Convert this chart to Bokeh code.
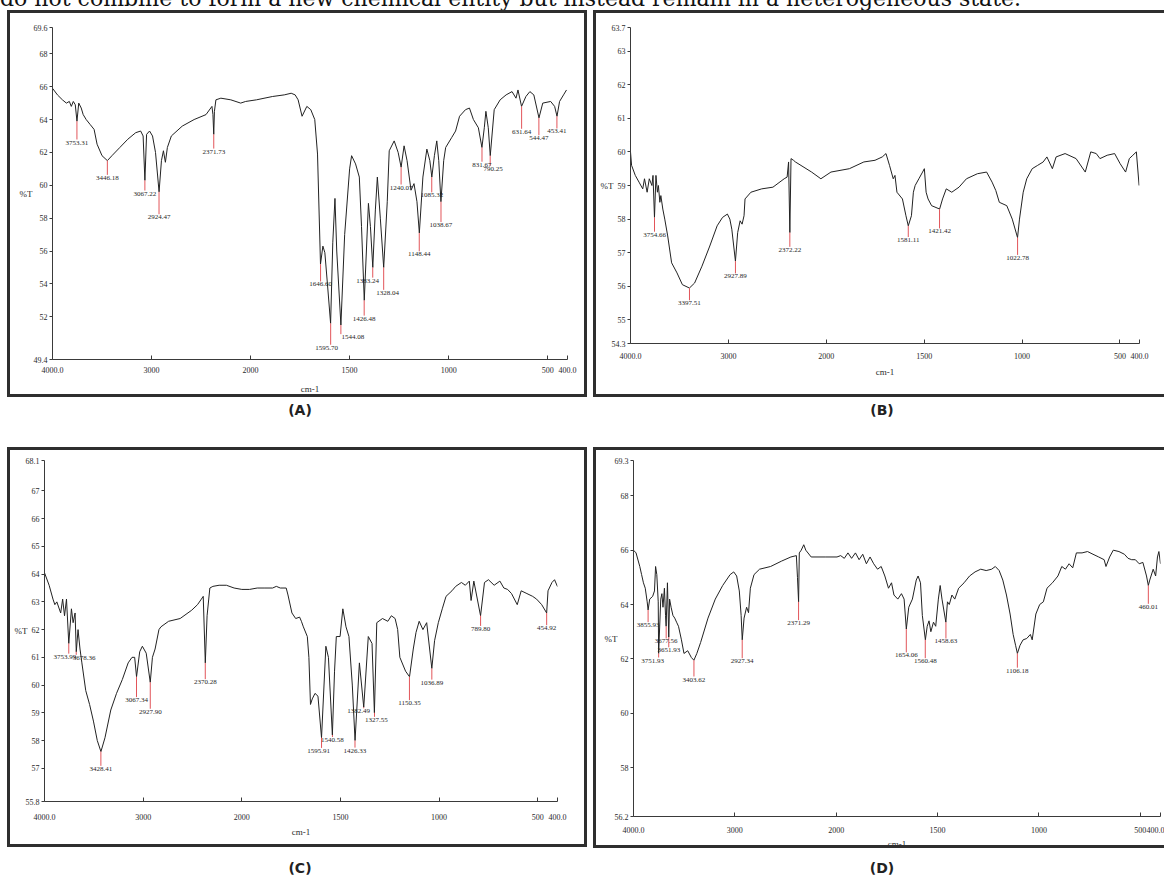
from bokeh.plotting import figure
from bokeh.models import ColumnDataSource, CustomJSTransform, FixedTicker, Range1d, Div, Spacer
from bokeh.layouts import row, column
from bokeh.transform import transform
from bokeh.embed import file_html
from bokeh.resources import INLINE
from bokeh.core.properties import value

# ---------------- data ----------------
X_TICKS = [4000, 3000, 2000, 1500, 1000, 500, 400]
X_TICK_LABELS = ["4000.0", "3000", "2000", "1500", "1000", "500", "400.0"]

# (A)
A_WN = [4000, 3950, 3900, 3860, 3830, 3810, 3790, 3770, 3753, 3735, 3710, 3690, 3660, 3620, 3580, 3550, 3500, 3446, 3400, 3320,
        3240, 3160, 3110, 3085, 3067, 3050, 3020, 2990, 2960, 2924, 2900, 2880, 2860, 2840, 2800, 2690, 2570, 2450, 2390, 2380,
        2372, 2365, 2350, 2300, 2200, 2100, 2050, 1970, 1890, 1830, 1795, 1775, 1760, 1740, 1716, 1696, 1676, 1662, 1647, 1635,
        1625, 1612, 1596, 1585, 1574, 1565, 1544, 1525, 1500, 1490, 1470, 1451, 1440, 1426, 1405, 1395, 1383, 1370, 1360, 1345,
        1328, 1310, 1300, 1275, 1255, 1240, 1225, 1210, 1190, 1175, 1160, 1148, 1130, 1110, 1095, 1085, 1072, 1060, 1050, 1039,
        1025, 1015, 985, 965, 945, 915, 895, 875, 850, 832, 820, 812, 800, 790, 770, 740, 710, 680, 660, 650,
        632, 610, 590, 570, 544, 525, 485, 465, 453, 440, 420, 405]
A_T = [65.9, 65.5, 65.2, 65.0, 65.1, 64.8, 65.1, 64.9, 63.9, 65.0, 64.7, 64.3, 64.0, 63.7, 63.4, 62.5, 61.8, 61.5, 61.8, 62.3,
       62.8, 63.2, 63.3, 63.0, 60.3, 63.1, 63.3, 63.0, 62.0, 59.6, 61.5, 62.1, 61.4, 62.3, 63.0, 63.6, 64.0, 64.3, 64.8, 64.3,
       63.1, 64.5, 65.2, 65.3, 65.2, 65.0, 65.1, 65.2, 65.4, 65.5, 65.6, 65.5, 65.2, 64.2, 64.8, 64.6, 64.0, 61.9, 55.2, 56.3,
       55.9, 54.0, 51.6, 56.5, 59.2, 56.0, 51.5, 57.0, 61.0, 61.8, 61.3, 60.5, 57.5, 53.0, 58.9, 57.5, 55.0, 58.5, 60.5, 58.0,
       55.0, 59.0, 62.1, 62.7, 62.0, 61.1, 62.4, 61.5, 59.7, 60.1, 59.0, 57.1, 60.5, 62.2, 61.5, 60.5, 61.8, 62.7, 61.5, 59.0,
       61.5, 62.3, 62.9, 63.3, 64.2, 64.6, 64.7, 64.0, 63.5, 62.3, 63.5, 64.5, 63.5, 61.8, 64.6, 65.2, 65.5, 65.7, 65.3, 65.8,
       64.8, 65.4, 65.7, 65.5, 64.1, 65.0, 65.1, 64.8, 64.2, 65.1, 65.5, 65.8]
A_PEAK_WN = [3753.31, 3446.18, 3067.22, 2924.47, 2371.73, 1646.60, 1595.70, 1544.08, 1426.48, 1383.24,
             1328.04, 1240.07, 1148.44, 1085.32, 1038.67, 831.67, 790.25, 631.64, 544.47, 453.41]
A_PEAK_T = [63.9, 61.5, 60.3, 59.6, 63.1, 55.2, 51.6, 51.5, 53.0, 55.0,
            55.0, 61.1, 57.1, 60.5, 59.0, 62.3, 61.8, 64.8, 64.1, 64.2]
A_YTICKS = [49.4, 52, 54, 56, 58, 60, 62, 64, 66, 68, 69.6]

# (B)
B_WN = [4000, 3989, 3951, 3913, 3875, 3857, 3830, 3808, 3781, 3770, 3755, 3740, 3725, 3715, 3700, 3690, 3670, 3650, 3620, 3580,
        3525, 3470, 3398, 3345, 3270, 3190, 3115, 3060, 3010, 2985, 2965, 2928, 2905, 2880, 2860, 2840, 2830, 2770, 2660, 2545,
        2430, 2400, 2385, 2372, 2360, 2335, 2315, 2150, 2055, 1976, 1882, 1808, 1751, 1714, 1695, 1677, 1658, 1649, 1639, 1611,
        1593, 1581, 1565, 1555, 1546, 1527, 1508, 1499, 1490, 1480, 1462, 1421, 1406, 1387, 1359, 1322, 1284, 1228, 1181, 1153,
        1134, 1116, 1078, 1050, 1023, 1013, 994, 976, 948, 920, 892, 873, 845, 826, 780, 724, 677, 649, 621, 602,
        565, 527, 499, 471, 452, 434, 416, 402]
B_T = [60.0, 59.6, 59.3, 59.1, 58.9, 59.2, 58.8, 59.2, 59.0, 59.3, 58.05, 59.3, 58.8, 59.0, 58.5, 58.7, 58.3, 58.0, 57.5, 56.7,
       56.4, 56.05, 55.95, 56.1, 56.6, 57.2, 57.8, 58.05, 58.15, 58.0, 57.7, 56.75, 57.6, 57.95, 57.85, 58.1, 58.6, 58.8, 58.9, 58.95,
       59.2, 59.25, 59.7, 57.6, 59.8, 59.75, 59.7, 59.4, 59.2, 59.4, 59.5, 59.7, 59.75, 59.85, 59.95, 59.6, 59.2, 59.3, 58.8, 58.6,
       58.1, 57.8, 58.1, 58.8, 59.0, 59.2, 59.4, 59.5, 58.8, 58.6, 58.4, 58.3, 58.6, 58.9, 58.8, 58.95, 59.2, 59.35, 59.4, 59.1,
       58.85, 58.5, 58.4, 58.0, 57.45, 58.0, 58.8, 59.2, 59.5, 59.6, 59.7, 59.85, 59.5, 59.85, 59.95, 59.8, 59.4, 60.0, 59.95, 59.8,
       59.9, 59.95, 59.65, 59.4, 59.8, 59.9, 60.0, 59.0]
B_PEAK_WN = [3754.66, 3397.51, 2927.89, 2372.22, 1581.11, 1421.42, 1022.78]
B_PEAK_T = [58.05, 55.95, 56.75, 57.6, 57.8, 58.3, 57.45]
B_YTICKS = [54.3, 55, 56, 57, 58, 59, 60, 61, 62, 63, 63.7]

# (C)
C_WN = [4000, 3953, 3914, 3895, 3875, 3836, 3816, 3797, 3777, 3754, 3727, 3710, 3690, 3678, 3660, 3640, 3621, 3582, 3543, 3504,
        3465, 3428, 3387, 3328, 3270, 3211, 3152, 3113, 3086, 3067, 3035, 3008, 2969, 2928, 2906, 2879, 2840, 2820, 2742, 2625,
        2508, 2449, 2410, 2391, 2370, 2352, 2324, 2293, 2230, 2156, 2078, 2000, 1961, 1922, 1883, 1844, 1825, 1805, 1775, 1766,
        1746, 1727, 1707, 1698, 1688, 1668, 1660, 1652, 1643, 1629, 1614, 1596, 1574, 1561, 1541, 1530, 1521, 1502, 1488, 1472,
        1457, 1440, 1426, 1404, 1382, 1359, 1340, 1328, 1316, 1287, 1260, 1242, 1223, 1210, 1199, 1170, 1150, 1131, 1117, 1101,
        1082, 1063, 1037, 1023, 1004, 984, 965, 935, 916, 887, 867, 847, 838, 824, 790, 770, 750, 721, 692, 672,
        653, 633, 604, 584, 555, 526, 506, 480, 455, 448, 428, 415, 400]
C_T = [64.05, 63.6, 63.1, 62.9, 63.0, 62.6, 63.1, 62.5, 63.1, 61.5, 62.75, 62.25, 62.6, 61.2, 62.0, 61.3, 60.8, 59.8, 59.3, 58.7,
       58.0, 57.6, 58.1, 59.1, 59.7, 60.2, 60.8, 61.0, 61.0, 60.3, 61.2, 61.4, 61.15, 60.1, 61.0, 61.3, 62.0, 62.1, 62.3, 62.4,
       62.7, 62.9, 63.1, 63.2, 60.8, 62.5, 63.5, 63.56, 63.6, 63.6, 63.5, 63.45, 63.45, 63.5, 63.5, 63.5, 63.56, 63.5, 63.5, 63.25,
       62.6, 62.4, 62.45, 62.3, 62.1, 61.75, 61.0, 59.3, 59.5, 59.7, 59.6, 58.1, 61.4, 61.0, 58.2, 60.5, 61.75, 61.75, 62.75, 62.1,
       61.75, 60.0, 58.0, 60.8, 59.2, 61.75, 61.5, 59.0, 62.25, 62.4, 62.3, 62.5, 62.4, 62.0, 61.0, 60.5, 60.3, 61.3, 61.9, 62.3,
       62.0, 62.25, 60.6, 61.6, 62.25, 62.75, 63.2, 63.4, 63.56, 63.7, 63.6, 63.75, 63.05, 63.75, 62.5, 63.7, 63.8, 63.6, 63.75, 63.5,
       63.45, 63.3, 62.9, 63.4, 63.3, 63.2, 63.1, 62.9, 62.6, 63.4, 63.7, 63.8, 63.55]
C_PEAK_WN = [3753.99, 3678.36, 3428.41, 3067.34, 2927.90, 2370.28, 1595.91, 1540.58, 1426.33, 1382.49,
             1327.55, 1150.35, 1036.89, 789.80, 454.92]
C_PEAK_T = [61.5, 61.2, 57.6, 60.3, 60.1, 60.8, 58.1, 58.2, 58.0, 59.2,
            59.0, 60.3, 60.6, 62.5, 62.6]
C_YTICKS = [55.8, 57, 58, 59, 60, 61, 62, 63, 64, 65, 66, 67, 68.1]

# (D)
D_WN = [4000, 3975, 3938, 3920, 3902, 3884, 3865, 3856, 3840, 3811, 3793, 3782, 3770, 3756, 3752, 3731, 3720, 3709, 3695, 3684,
        3678, 3665, 3652, 3644, 3629, 3611, 3593, 3575, 3556, 3527, 3502, 3465, 3429, 3404, 3375, 3338, 3265, 3193, 3120, 3047,
        3011, 2982, 2956, 2938, 2927, 2909, 2884, 2865, 2847, 2811, 2756, 2647, 2538, 2447, 2393, 2382, 2371, 2364, 2345, 2320,
        2300, 2247, 2102, 1996, 1978, 1960, 1942, 1924, 1905, 1887, 1869, 1851, 1833, 1815, 1796, 1778, 1760, 1742, 1727, 1715,
        1696, 1678, 1665, 1654, 1642, 1624, 1605, 1596, 1584, 1575, 1560, 1551, 1542, 1533, 1520, 1509, 1496, 1487, 1478, 1459,
        1451, 1442, 1429, 1415, 1396, 1369, 1342, 1315, 1287, 1260, 1233, 1215, 1196, 1178, 1160, 1142, 1127, 1115, 1106, 1093,
        1078, 1060, 1042, 1033, 1015, 996, 978, 960, 933, 906, 887, 869, 851, 833, 815, 787, 760, 733, 705, 678,
        669, 651, 633, 605, 578, 560, 542, 524, 505, 487, 469, 460, 453, 436, 424, 415, 408, 400]
D_T = [66.0, 65.9, 65.4, 65.1, 64.8, 64.6, 64.1, 63.8, 64.2, 64.3, 64.5, 65.4, 65.1, 64.1, 62.2, 64.2, 64.4, 63.9, 64.6, 63.6,
       63.2, 64.8, 62.8, 64.2, 63.9, 63.6, 63.5, 63.35, 63.2, 62.7, 62.2, 62.3, 62.05, 61.95, 62.2, 62.6, 63.5, 64.2, 64.7, 65.1,
       65.2, 65.05, 64.5, 63.6, 62.7, 63.5, 63.9, 63.7, 64.6, 65.1, 65.3, 65.4, 65.6, 65.75, 65.8, 65.0, 64.1, 65.9, 66.0, 66.2,
       66.0, 65.75, 65.75, 65.75, 65.8, 65.7, 65.9, 65.7, 65.9, 65.65, 65.85, 65.5, 65.75, 65.5, 65.3, 65.4, 65.05, 64.6, 64.8, 64.35,
       64.2, 64.4, 64.2, 63.1, 63.9, 64.2, 64.9, 65.05, 64.8, 63.6, 62.7, 63.2, 63.4, 63.0, 63.35, 63.2, 64.2, 64.7, 64.2, 63.35,
       64.1, 64.0, 64.35, 64.2, 64.6, 64.8, 65.05, 65.2, 65.3, 65.25, 65.3, 65.4, 65.25, 64.9, 64.35, 63.65, 62.9, 62.5, 62.2, 62.5,
       62.7, 62.75, 62.9, 62.7, 63.65, 64.0, 64.1, 64.6, 64.8, 65.05, 65.4, 65.3, 65.5, 65.35, 65.9, 65.9, 65.95, 65.85, 65.75, 65.65,
       65.4, 65.75, 66.0, 65.95, 65.85, 65.7, 65.65, 65.65, 65.5, 65.55, 65.05, 64.7, 64.9, 65.3, 65.05, 65.75, 65.95, 65.5]
D_PEAK_WN = [3855.93, 3751.93, 3677.56, 3651.93, 3403.62, 2927.34, 2371.29, 1654.06, 1560.48, 1458.63, 1106.18, 460.01]
D_PEAK_T = [63.8, 62.2, 63.2, 62.8, 61.95, 62.7, 64.1, 63.1, 62.7, 63.35, 62.2, 64.7]
D_YTICKS = [56.2, 58, 60, 62, 64, 66, 68, 69.3]

CAPTION = "do not combine to form a new chemical entity but instead remain in a heterogeneous state."
PANEL_TAGS = ["(A)", "(B)", "(C)", "(D)"]
Y_TITLE = "%T"
X_TITLE = "cm-1"

# ---------------- styling (positions / sizes) ----------------
A_DROP = [18, 14, 10, 22, 14, 17, 21, 9, 15, 10, 22, 17, 18, 15, 20, 14, 10, 22, 17, 12]
A_DX = [0, 0, 0, 0, 0, 0, -4, 12, 0, -5, 4, 0, 0, 0, 0, 0, 3, 0, 0, 0]
B_DROP = [14, 12, 12, 14, 11, 19, 17]
B_DX = [0, 0, 0, 0, 0, 0, 0]
C_DROP = [10, 3, 14, 20, 26, 16, 10, 2, 7, 1, 4, 23, 11, 10, 12]
C_DX = [-4, 8, 0, 0, 0, 0, -3, 0, 0, -5, 2, 0, 0, 0, 0]
D_DROP = [12, 4, 12, 10, 16, 18, 18, 23, 18, 16, 14, 18]
D_DX = [0, -6, 0, 0, 0, 0, 0, 0, 0, 0, 0, 0]

SERIF = "Liberation Serif"
BORDER = "3px solid #2f2f2f"

# FTIR axis: the region above 2000 cm-1 is drawn at half scale
fold = CustomJSTransform(v_func="""
const out = new Array(xs.length);
for (let i = 0; i < xs.length; i++) {
  const w = xs[i];
  out[i] = w > 2000 ? 2000 + (w - 2000) / 2 : w;
}
return out;
""")


def fold_py(w):
    return w if w <= 2000 else 2000 + (w - 2000) // 2


def fmt(v):
    return str(int(v)) if float(v).is_integer() else str(v)


def panel(wn, t, pk_wn, pk_t, drop, dx, yticks, geom, xstand, xlab_stand, ylab_stand, css):
    ml, fw, mr, mt, fh, mb = geom
    y0, y1 = yticks[0], yticks[-1]
    p = figure(title=None, frame_width=fw, frame_height=fh, min_border_left=ml, min_border_right=mr,
               min_border_top=mt, min_border_bottom=mb,
               x_range=Range1d(fold_py(4000), 400), y_range=Range1d(y0, y1),
               output_backend="svg", toolbar_location=None, outline_line_color=None,
               background_fill_color="white", border_fill_color="white")
    p.styles = css
    p.xgrid.visible = False
    p.ygrid.visible = False
    ppu = fh / (y1 - y0)

    src = ColumnDataSource(dict(w=wn, t=t))
    p.line(x=transform("w", fold), y="t", source=src, line_color="#222222", line_width=1.0)

    bot = [v - d / ppu for v, d in zip(pk_t, drop)]
    psrc = ColumnDataSource(dict(w=pk_wn, top=pk_t, bot=bot,
                                 label=[f"{w:.2f}" for w in pk_wn], dx=dx))
    p.segment(x0=transform("w", fold), y0="top", x1=transform("w", fold), y1="bot",
              source=psrc, line_color="#e2555a", line_width=1)
    p.text(x=transform("w", fold), y="bot", text="label", x_offset="dx", y_offset=1, source=psrc,
           text_font=value(SERIF), text_font_size="7px", text_align="center",
           text_baseline="top", text_color="#262626")

    xt = [fold_py(w) for w in X_TICKS]
    xa = p.xaxis[0]
    xa.ticker = FixedTicker(ticks=xt)
    xa.major_label_overrides = dict(zip(xt, X_TICK_LABELS))
    xa.major_tick_in = 4
    xa.major_tick_out = 0
    xa.major_label_standoff = xstand
    xa.axis_label = X_TITLE
    xa.axis_label_standoff = xlab_stand

    ya = p.yaxis[0]
    ya.ticker = FixedTicker(ticks=yticks)
    ya.major_label_overrides = {v: fmt(v) for v in yticks}
    ya.major_tick_in = 0
    ya.major_tick_out = 3
    ya.major_label_standoff = 2
    ya.axis_label = Y_TITLE
    ya.axis_label_orientation = "horizontal"
    ya.axis_label_standoff = ylab_stand

    for ax in (xa, ya):
        ax.minor_tick_line_color = None
        ax.axis_line_color = "#3a3a3a"
        ax.major_tick_line_color = "#3a3a3a"
        ax.major_label_text_font = SERIF
        ax.major_label_text_font_size = "8px"
        ax.major_label_text_color = "#2a2a2a"
        ax.axis_label_text_font = SERIF
        ax.axis_label_text_font_size = "9px"
        ax.axis_label_text_font_style = "normal"
        ax.axis_label_text_color = "#2a2a2a"
    return p


full = {"border": BORDER}
open_right = {"border-top": BORDER, "border-left": BORDER, "border-bottom": BORDER}

pA = panel(A_WN, A_T, A_PEAK_WN, A_PEAK_T, A_DROP, A_DX, A_YTICKS, (42, 509, 23, 14, 326, 41), 7, 8, -2, full)
pB = panel(B_WN, B_T, B_PEAK_WN, B_PEAK_T, B_DROP, B_DX, B_YTICKS, (34, 506, 28, 11, 310, 60), 9, 5, -5, open_right)
pC = panel(C_WN, C_T, C_PEAK_WN, C_PEAK_T, C_DROP, C_DX, C_YTICKS, (34, 507, 33, 10, 335, 49), 12, 4, -5, full)
pD = panel(D_WN, D_T, D_PEAK_WN, D_PEAK_T, D_DROP, D_DX, D_YTICKS, (37, 524, 7, 10, 350, 34), 10, 3, -6, open_right)


def tag(txt, w, h, pad):
    return Div(text=f'<div style="width:{w}px;text-align:center;font-family:\'DejaVu Sans\';font-weight:bold;'
                    f'font-size:14px;line-height:14px;padding-top:{pad}px;color:#222">{txt}</div>',
               width=w, height=h, margin=0)


top = Div(text=f'<div style="position:relative;top:-12px;white-space:nowrap;font-family:\'DejaVu Serif\';'
               f'font-size:22px;line-height:22px;color:#111">{CAPTION}</div>',
          width=1164, height=10, margin=0, styles={"overflow": "hidden"})

r1 = row(Spacer(width=7, height=387, margin=0), pA, Spacer(width=6, height=387, margin=0), pB)
l1 = row(tag(PANEL_TAGS[0], 600, 50, 6), tag(PANEL_TAGS[1], 564, 50, 6))
r2 = row(Spacer(width=7, height=400, margin=0), pC, Spacer(width=6, height=400, margin=0), pD)
l2 = row(tag(PANEL_TAGS[2], 600, 30, 13), tag(PANEL_TAGS[3], 564, 30, 13))

root = column(top, r1, l1, r2, l2)

open("out.html", "w").write(file_html(root, INLINE))
